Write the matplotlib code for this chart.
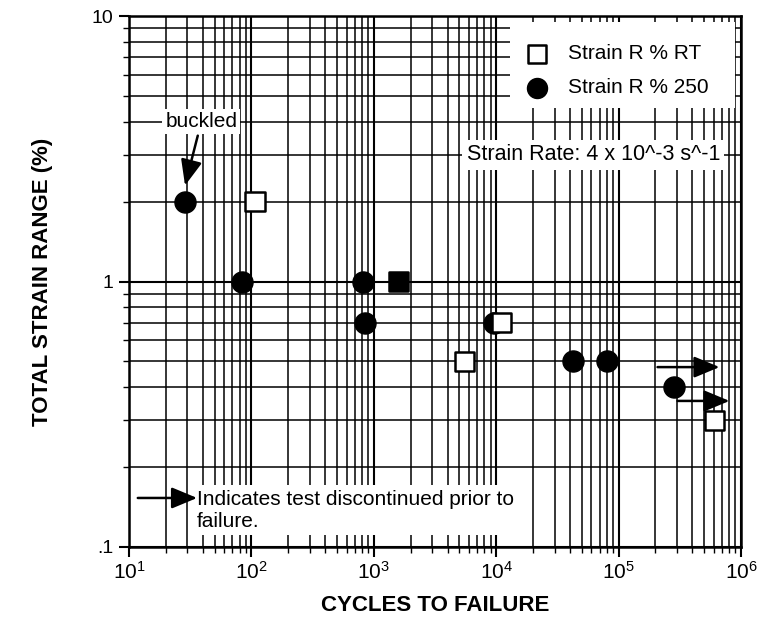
import matplotlib
matplotlib.use("Agg")
import matplotlib.pyplot as plt
from matplotlib.patches import Rectangle
from matplotlib.ticker import LogLocator, FixedLocator, FixedFormatter, NullFormatter

plt.rcParams['font.family'] = ['Liberation Sans', 'DejaVu Sans']
plt.rcParams['mathtext.fontset'] = 'custom'
plt.rcParams['mathtext.rm'] = 'Liberation Sans'
plt.rcParams['mathtext.it'] = 'Liberation Sans'
plt.rcParams['mathtext.default'] = 'regular'

# ---- data ----
rt_cycles = [107, 1600, 11100, 5500, 610000]
rt_strain = [2.0, 1.0, 0.70, 0.50, 0.30]
rt_face = ['white', 'black', 'white', 'white', 'white']

hot_cycles = [28.7, 84, 815, 850, 9600, 42000, 81000, 286000]
hot_strain = [2.0, 1.0, 1.0, 0.70, 0.70, 0.50, 0.50, 0.40]

# run-out arrows (start cycles, end cycles, strain)
runout_start = [208000, 303000]
runout_end = [667000, 805000]
runout_strain = [0.476, 0.355]

y_ticks = [0.1, 1, 10]
y_tick_labels = ['.1', '1', '10']

ARROW = '-|>,head_length=1.2,head_width=0.5'

fig = plt.figure(figsize=(7.66, 6.26), dpi=100)
ax = fig.add_axes([0.1684, 0.1262, 0.7990, 0.8482])
ax.set_xscale('log')
ax.set_yscale('log')
ax.set_xlim(10, 1e6)
ax.set_ylim(0.1, 10)

# grid
ax.xaxis.set_minor_locator(LogLocator(base=10, subs=range(2, 10)))
ax.yaxis.set_minor_locator(LogLocator(base=10, subs=range(2, 10)))
ax.grid(True, which='major', color='black', lw=1.5)
ax.grid(True, which='minor', color='black', lw=1.1)
ax.set_axisbelow(True)
for s in ax.spines.values():
    s.set_linewidth(1.8)

ax.yaxis.set_major_locator(FixedLocator(y_ticks))
ax.yaxis.set_major_formatter(FixedFormatter(y_tick_labels))
ax.yaxis.set_minor_formatter(NullFormatter())
ax.xaxis.set_minor_formatter(NullFormatter())
ax.tick_params(which='major', direction='out', length=7, width=1.5, labelsize=15, pad=3)
ax.tick_params(which='minor', direction='out', length=4, width=1.0)
ax.tick_params(axis='y', which='major', labelsize=14, pad=4)

ax.set_xlabel('CYCLES TO FAILURE', fontsize=16, fontweight='bold', labelpad=9)
ax.set_ylabel('TOTAL STRAIN RANGE (%)', fontsize=16, fontweight='bold', labelpad=28)

# data
ax.scatter(hot_cycles, hot_strain, s=230, marker='o', facecolor='black',
           edgecolor='black', zorder=4, label='Strain R % 250')
ax.scatter(rt_cycles, rt_strain, s=190, marker='s', facecolor=rt_face,
           edgecolor='black', linewidths=1.8, zorder=5, label='Strain R % RT')

# run-out arrows
for x0, x1, yv in zip(runout_start, runout_end, runout_strain):
    ax.annotate('', xy=(x1, yv), xytext=(x0, yv),
                arrowprops=dict(arrowstyle=ARROW, mutation_scale=13,
                                lw=1.8, color='black', shrinkA=0, shrinkB=0), zorder=6)

# buckled annotation
ax.annotate('buckled', xy=(28.7, 2.3), xytext=(39, 4.0), fontsize=15,
            ha='center', va='center',
            bbox=dict(boxstyle='square,pad=0.15', fc='white', ec='none'),
            arrowprops=dict(arrowstyle=ARROW, mutation_scale=13,
                            lw=1.8, color='black', shrinkA=1, shrinkB=0), zorder=6)

# strain rate text
ax.text(5740, 3.0, 'Strain Rate: 4 x 10^-3 s^-1', fontsize=15.5, ha='left', va='center',
        bbox=dict(boxstyle='square,pad=0.2', fc='white', ec='none'), zorder=6)

# bottom note
ax.text(36, 0.1377, 'Indicates test discontinued prior to\nfailure.', fontsize=15,
        ha='left', va='center', linespacing=1.2,
        bbox=dict(boxstyle='square,pad=0.2', fc='white', ec='none'), zorder=6)
ax.annotate('', xy=(36, 0.153), xytext=(11.8, 0.153),
            arrowprops=dict(arrowstyle=ARROW, mutation_scale=13,
                            lw=1.8, color='black', shrinkA=0, shrinkB=0), zorder=7)

# legend (white box behind, no border)
ax.add_patch(Rectangle((0.623, 0.827), 0.367, 0.162, transform=ax.transAxes,
                       facecolor='white', edgecolor='none', zorder=7))
h, l = ax.get_legend_handles_labels()
leg = ax.legend([h[1], h[0]], [l[1], l[0]], loc='upper left',
                bbox_to_anchor=(0.6405, 0.947), fontsize=15, frameon=False,
                borderpad=0, handlelength=1.5, handletextpad=0.77,
                labelspacing=0.72, borderaxespad=0, markerscale=0.95)
leg.set_zorder(8)

fig.savefig('out.png', dpi=100)
